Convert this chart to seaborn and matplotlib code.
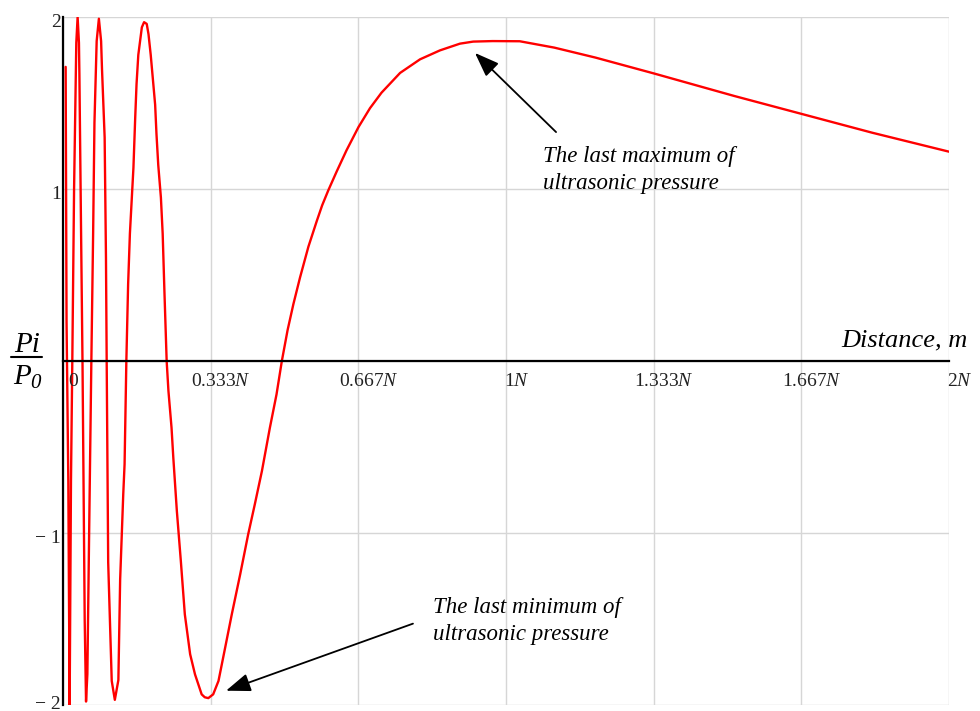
import numpy as np
import pandas as pd
import matplotlib
matplotlib.use("Agg")
import matplotlib.pyplot as plt
import seaborn as sns
from matplotlib.lines import Line2D

# ---------------- data (distance in units of N, pressure ratio Pi/P0) -------------
distance = [0.006, 0.008, 0.012, 0.0135, 0.015, 0.018, 0.021, 0.025, 0.027, 0.030,
            0.033, 0.036, 0.037, 0.041, 0.044, 0.047, 0.049, 0.052, 0.055, 0.059,
            0.064, 0.068, 0.071, 0.076, 0.081, 0.086, 0.088, 0.094, 0.097, 0.0986,
            0.102, 0.110, 0.117, 0.125, 0.129, 0.136, 0.139, 0.143, 0.147, 0.151,
            0.159, 0.163, 0.166, 0.170, 0.178, 0.183, 0.189, 0.193, 0.198, 0.2025,
            0.208, 0.211, 0.215, 0.221, 0.225, 0.229, 0.234, 0.238, 0.245, 0.249,
            0.257, 0.266, 0.275, 0.287, 0.298, 0.313, 0.320, 0.328, 0.339, 0.351,
            0.366, 0.381, 0.400, 0.418, 0.433, 0.449, 0.467, 0.482, 0.494, 0.507,
            0.520, 0.535, 0.554, 0.573, 0.585, 0.599, 0.618, 0.640, 0.667, 0.693,
            0.719, 0.761, 0.806, 0.851, 0.896, 0.926, 0.970, 1.031, 1.109, 1.202,
            1.335, 1.515, 1.671, 1.827, 2.000]
pressure = [1.71, 0.23, -0.70, -1.37, -2.00, -0.70, 0.00, 1.00, 1.34, 1.85,
            2.00, 1.85, 1.67, 0.70, 0.00, -0.90, -1.51, -1.98, -1.82, -1.00,
            0.00, 0.74, 1.385, 1.86, 1.99, 1.86, 1.70, 1.30, 0.60, 0.00,
            -1.17, -1.86, -1.97, -1.855, -1.27, -0.775, -0.60, 0.00, 0.446, 0.74,
            1.124, 1.415, 1.61, 1.78, 1.94, 1.97, 1.96, 1.90, 1.78, 1.65,
            1.49, 1.32, 1.14, 0.95, 0.74, 0.40, 0.00, -0.174, -0.388, -0.562,
            -0.872, -1.163, -1.473, -1.705, -1.822, -1.938, -1.955, -1.96, -1.938, -1.860,
            -1.667, -1.473, -1.240, -1.008, -0.833, -0.640, -0.388, -0.194, 0.000, 0.180,
            0.330, 0.485, 0.665, 0.815, 0.905, 0.993, 1.103, 1.225, 1.360, 1.470,
            1.560, 1.675, 1.754, 1.806, 1.845, 1.857, 1.860, 1.859, 1.822, 1.764,
            1.671, 1.541, 1.434, 1.327, 1.217]

x_ticks = [0, 1/3, 2/3, 1, 4/3, 5/3, 2]
x_tick_labels = ["0", r"0.333$\mathit{N}$", r"0.667$\mathit{N}$", r"1$\mathit{N}$",
                 r"1.333$\mathit{N}$", r"1.667$\mathit{N}$", r"2$\mathit{N}$"]
y_ticks = [-2, -1, 0, 1, 2]
y_tick_labels = ["\u2212 2", "\u2212 1", "", "1", "2"]

x_title = "Distance, m"
max_note = "The last maximum of\nultrasonic pressure"
min_note = "The last minimum of\nultrasonic pressure"

df = pd.DataFrame({"distance": distance, "pressure": pressure})

# ---------------- style -------------
sns.set_theme(style="white")
plt.rcParams["font.family"] = ["Liberation Serif", "DejaVu Serif"]
plt.rcParams["mathtext.fontset"] = "custom"
plt.rcParams["mathtext.rm"] = "Liberation Serif"
plt.rcParams["mathtext.it"] = "Liberation Serif:italic"
plt.rcParams["mathtext.bf"] = "Liberation Serif:bold"

W, H = 980, 711
fig = plt.figure(figsize=(W / 100, H / 100), dpi=100)
left_px, right_px, top_px, bot_px = 63, 949, 17, 705
ax = fig.add_axes([left_px / W, 1 - bot_px / H, (right_px - left_px) / W, (bot_px - top_px) / H])
ax.set_facecolor("white")

sns.lineplot(data=df, x="distance", y="pressure", ax=ax, color="#ff0000",
             lw=1.7, estimator=None, sort=False, legend=False, zorder=3)

ax.set_xlim(0, 2)
ax.set_ylim(-2, 2)
ax.set_xlabel("")
ax.set_ylabel("")

ax.set_xticks(x_ticks)
ax.set_yticks(y_ticks)
ax.set_xticklabels([])
ax.set_yticklabels([])
ax.grid(True, color="#d6d6d6", lw=1.0)
ax.set_axisbelow(True)
for gl in ax.get_xgridlines() + ax.get_ygridlines():
    gl.set_clip_on(False)

for s in ["top", "right"]:
    ax.spines[s].set_visible(False)
ax.spines["left"].set_position(("data", 0))
ax.spines["bottom"].set_position(("data", 0))
for s in ["left", "bottom"]:
    ax.spines[s].set_color("black")
    ax.spines[s].set_linewidth(1.6)
    ax.spines[s].set_zorder(4)
ax.tick_params(axis="both", direction="inout", length=9, width=1.3, color="black")

# tick labels
for t, lab in zip(x_ticks, x_tick_labels):
    ax.annotate(lab, xy=(t, 0), xytext=(7.5, -14.5), textcoords="offset points",
                ha="center", va="center", fontsize=14, color="#222222",
                annotation_clip=False)
for t, lab in zip(y_ticks, y_tick_labels):
    if lab:
        dy = -3.8 if t > -2 else 0.5
        ax.annotate(lab, xy=(0, t), xytext=(-1.5, dy), textcoords="offset points",
                    ha="right", va="center", fontsize=14, color="#222222",
                    annotation_clip=False)

# axis title
fig.text(968 / W, 1 - 346 / H, x_title, ha="right", va="baseline",
         fontsize=19, style="italic", color="black")

# y label as a fraction
fig.text(27 / W, 1 - 345 / H, "Pi", ha="center", va="center", fontsize=21,
         style="italic", color="black")
fig.add_artist(Line2D([11 / W, 42 / W], [1 - 357 / H, 1 - 357 / H], color="black", lw=1.5))
fig.text(22 / W, 1 - 377 / H, "P", ha="center", va="center", fontsize=21,
         style="italic", color="black")
fig.text(35 / W, 1 - 384 / H, "0", ha="center", va="center", fontsize=15,
         style="italic", color="black")

# annotations
arrow = dict(arrowstyle="-|>,head_length=0.75,head_width=0.28", color="black",
             lw=1.3, shrinkA=0, shrinkB=0, mutation_scale=20)
ax.annotate("", xy=(0.930, 1.791), xytext=(1.113, 1.331), arrowprops=arrow,
            annotation_clip=False)
ax.annotate("", xy=(0.368, -1.917), xytext=(0.790, -1.527), arrowprops=arrow,
            annotation_clip=False)
fig.text(543 / W, 1 - 146 / H, max_note, ha="left", va="top", fontsize=16.5,
         style="italic", color="black", linespacing=1.4)
fig.text(433 / W, 1 - 597 / H, min_note, ha="left", va="top", fontsize=16.5,
         style="italic", color="black", linespacing=1.4)

fig.savefig("out.png", dpi=100, facecolor="white")
